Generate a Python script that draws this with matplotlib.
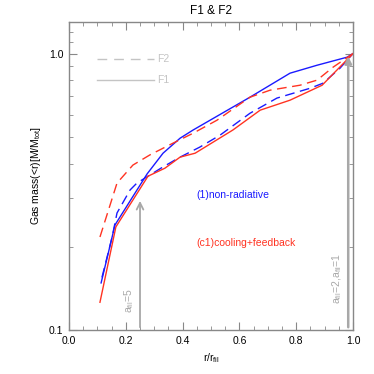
import numpy as np
import matplotlib.pyplot as plt
from matplotlib.ticker import MultipleLocator, FixedLocator, NullFormatter, FixedFormatter

plt.rcParams['font.family'] = ['Liberation Sans', 'DejaVu Sans']

# non-radiative run (1)
nr_f1_x = [0.113, 0.162, 0.275, 0.331, 0.391, 0.437, 0.637, 0.778, 0.873, 0.979, 1.0]
nr_f1_y = [0.148, 0.240, 0.367, 0.436, 0.494, 0.529, 0.695, 0.849, 0.907, 0.970, 1.0]
nr_f2_x = [0.116, 0.151, 0.169, 0.215, 0.239, 0.331, 0.391, 0.461, 0.532, 0.637, 0.732, 0.849, 0.894, 0.954, 1.0]
nr_f2_y = [0.155, 0.215, 0.265, 0.321, 0.340, 0.389, 0.422, 0.459, 0.507, 0.608, 0.690, 0.749, 0.781, 0.885, 1.0]

# cooling + feedback run (c1)
cf_f1_x = [0.109, 0.165, 0.278, 0.338, 0.391, 0.444, 0.577, 0.673, 0.778, 0.891, 1.0]
cf_f1_y = [0.126, 0.236, 0.360, 0.385, 0.422, 0.436, 0.529, 0.624, 0.678, 0.768, 1.0]
cf_f2_x = [0.109, 0.169, 0.225, 0.285, 0.366, 0.437, 0.521, 0.637, 0.708, 0.813, 0.873, 0.930, 1.0]
cf_f2_y = [0.217, 0.340, 0.395, 0.430, 0.474, 0.515, 0.574, 0.695, 0.737, 0.768, 0.801, 0.893, 1.0]

gray = '#a8a8a8'
light = '#c4c4c4'
blue = '#1a1aff'
red = '#ff3322'

fig = plt.figure(figsize=(3.74, 3.74), dpi=100)
ax = fig.add_axes([0.1845, 0.1176, 0.7595, 0.8235])

# vertical markers (drawn first, behind curves)
ax.annotate('', xy=(0.25, 0.30), xytext=(0.25, 0.1),
            arrowprops=dict(arrowstyle='->', color=gray, lw=1.3, mutation_scale=12))
ax.annotate('', xy=(0.983, 1.0), xytext=(0.983, 0.1),
            arrowprops=dict(arrowstyle='-|>', color=gray, lw=1.8, mutation_scale=10))

ax.plot(nr_f1_x, nr_f1_y, color=blue, lw=1.0)
ax.plot(nr_f2_x, nr_f2_y, color=blue, lw=1.0, ls=(0, (7, 4)))
ax.plot(cf_f1_x, cf_f1_y, color=red, lw=1.0)
ax.plot(cf_f2_x, cf_f2_y, color=red, lw=1.0, ls=(0, (7, 4)))

# gray key for line styles
ax.plot([0.1, 0.3], [0.953, 0.953], color=light, lw=1.0, ls=(0, (7, 5)))
ax.text(0.31, 0.953, 'F2', color=light, fontsize=7.5, va='center')
ax.plot([0.1, 0.3], [0.80, 0.80], color=light, lw=1.0)
ax.text(0.31, 0.80, 'F1', color=light, fontsize=7.5, va='center')

ax.text(0.45, 0.308, '(1)non-radiative', color=blue, fontsize=7.5, va='center')
ax.text(0.45, 0.207, '(c1)cooling+feedback', color=red, fontsize=7.5, va='center')

ax.text(0.21, 0.128, r'$\mathregular{a_{fil}}$=5', color=gray, fontsize=7.5,
        rotation=90, ha='center', va='center')
ax.text(0.945, 0.154, r'$\mathregular{a_{fil}}$=2,$\mathregular{a_{fil}}$=1', color=gray,
        fontsize=7.5, rotation=90, ha='center', va='center')

ax.set_yscale('log')
ax.set_xlim(0, 1)
ax.set_ylim(0.1, 1.3)

ax.xaxis.set_major_locator(MultipleLocator(0.2))
ax.xaxis.set_minor_locator(MultipleLocator(0.05))
ax.yaxis.set_major_locator(FixedLocator([0.1, 1.0]))
ax.yaxis.set_major_formatter(FixedFormatter(['0.1', '1.0']))
ax.yaxis.set_minor_locator(FixedLocator([0.2, 0.3, 0.4, 0.5, 0.6, 0.7, 0.8, 0.9, 1.1, 1.2]))
ax.yaxis.set_minor_formatter(NullFormatter())

ax.tick_params(which='both', direction='in', top=True, right=True,
               labelsize=7.5, color='#888888', pad=4)
ax.tick_params(which='major', length=6)
ax.tick_params(which='minor', length=3)
for s in ax.spines.values():
    s.set_color('#888888')
    s.set_linewidth(1.0)

ax.set_title('F1 & F2', fontsize=8.5, pad=6)
ax.set_xlabel(r'r/$\mathregular{r_{fil}}$', fontsize=7.5)
ax.set_ylabel(r'Gas mass(<r)[M/$\mathregular{M_{tot}}$]', fontsize=7.5)

fig.savefig('out.png', dpi=100)
